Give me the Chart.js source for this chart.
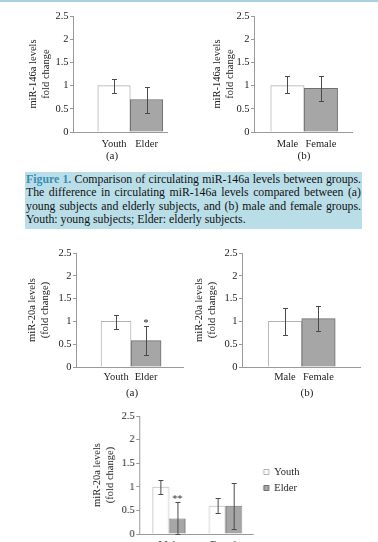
<!DOCTYPE html>
<html>
<head>
<meta charset="utf-8">
<script src="https://cdn.jsdelivr.net/npm/chart.js@4/dist/chart.umd.min.js"></script>
<style>
html,body{margin:0;padding:0;background:#fff;}
body{width:378px;height:542px;overflow:hidden;position:relative;font-family:'Liberation Serif','Times New Roman',serif;}
.topline{position:absolute;left:0;top:0;width:378px;height:2px;background:#a9d0dc;}
canvas{position:absolute;display:block;}
.sub{position:absolute;font-size:11px;color:#222;transform:translateX(-50%);white-space:nowrap;line-height:12px;}
.cap{position:absolute;left:25px;top:172px;width:335px;height:56px;background:#b9dee8;padding:1px 1px 0 1px;font-size:11.8px;line-height:13.3px;color:#111;}
.cap div{text-align:justify;text-align-last:justify;}
.cap div.last{text-align:left;text-align-last:left;}
.cap b{color:#3a8db4;}
</style>
</head>
<body>
<div class="topline"></div>
<canvas id="c1a" width="185" height="170" style="left:0;top:0"></canvas>
<canvas id="c1b" width="193" height="170" style="left:185px;top:0"></canvas>
<div class="sub" style="left:112px;top:149px">(a)</div>
<div class="sub" style="left:304px;top:149px">(b)</div>
<div class="cap">
<div><b>Figure 1.</b> Comparison of circulating miR-146a levels between groups.</div>
<div>The difference in circulating miR-146a levels compared between (a)</div>
<div>young subjects and elderly subjects, and (b) male and female groups.</div>
<div class="last">Youth: young subjects; Elder: elderly subjects.</div>
</div>
<canvas id="c2a" width="185" height="170" style="left:0;top:240px"></canvas>
<canvas id="c2b" width="193" height="170" style="left:185px;top:240px"></canvas>
<div class="sub" style="left:132px;top:386px">(a)</div>
<div class="sub" style="left:307px;top:386px">(b)</div>
<canvas id="c3" width="288" height="160" style="left:90px;top:400px"></canvas>
<script>
// ---------- data ----------
const ageGroups = ['Youth', 'Elder'];
const sexGroups = ['Male', 'Female'];
const yTickValues = [0, 0.5, 1, 1.5, 2, 2.5];
const yTickLabels = ['0', '0.5', '1', '1.5', '2', '2.5'];

// Figure 1 (a): miR-146a, youth vs elder
const mir146aByAge = [1.0, 0.70];
const mir146aByAgeLow = [0.84, 0.42];
const mir146aByAgeHigh = [1.15, 0.98];
// Figure 1 (b): miR-146a, male vs female
const mir146aBySex = [1.0, 0.94];
const mir146aBySexLow = [0.84, 0.67];
const mir146aBySexHigh = [1.20, 1.21];
// miR-20a (a): youth vs elder
const mir20aByAge = [1.0, 0.58];
const mir20aByAgeLow = [0.84, 0.27];
const mir20aByAgeHigh = [1.15, 0.89];
const mir20aByAgeSig = ['', '*'];
// miR-20a (b): male vs female
const mir20aBySex = [1.0, 1.06];
const mir20aBySexLow = [0.71, 0.80];
const mir20aBySexHigh = [1.29, 1.33];
// miR-20a grouped by sex, youth / elder series
const mir20aYouth = [1.0, 0.60];
const mir20aYouthLow = [0.84, 0.44];
const mir20aYouthHigh = [1.14, 0.77];
const mir20aElder = [0.33, 0.60];
const mir20aElderLow = [0.0, 0.10];
const mir20aElderHigh = [0.67, 1.09];
const mir20aElderSig = ['**', ''];

// ---------- styling ----------
const FONT = "'Liberation Serif', 'Times New Roman', serif";
Chart.defaults.font.family = FONT;
Chart.defaults.font.size = 10.5;
Chart.defaults.color = '#222';
Chart.defaults.animation = false;

const WHITE = '#ffffff', WHITE_BORDER = '#b4b4b4';
const GREY = '#a6a6a6', GREY_BORDER = '#6f6f6f';
const AXIS = '#9a9a9a';

const errorBarPlugin = {
  id: 'errorBars',
  afterDatasetsDraw(chart) {
    const ctx = chart.ctx, ys = chart.scales.y;
    chart.data.datasets.forEach((ds, di) => {
      if (!ds.errLow) return;
      const meta = chart.getDatasetMeta(di);
      meta.data.forEach((bar, i) => {
        const x = Math.round(bar.x) + 0.5;
        const yl = Math.round(ys.getPixelForValue(ds.errLow[i])) + 0.5;
        const yh = Math.round(ys.getPixelForValue(ds.errHigh[i])) + 0.5;
        ctx.save();
        ctx.strokeStyle = '#4a4a4a';
        ctx.lineWidth = 1;
        ctx.beginPath();
        ctx.moveTo(x, yl); ctx.lineTo(x, yh);
        ctx.moveTo(x - 2.5, yh); ctx.lineTo(x + 2.5, yh);
        ctx.moveTo(x - 2.5, yl); ctx.lineTo(x + 2.5, yl);
        ctx.stroke();
        if (ds.sig && ds.sig[i]) {
          ctx.fillStyle = '#222';
          ctx.font = '10px ' + FONT;
          ctx.textAlign = 'center';
          ctx.textBaseline = 'bottom';
          ctx.fillText(ds.sig[i], bar.x, yh + 1.5);
        }
        ctx.restore();
      });
    });
  }
};

function xy(values) { return values.map((v, i) => ({ x: i + 1, y: v })); }

function yScale(title, width, titlePad) {
  return {
    min: 0, max: 2.5,
    afterBuildTicks: s => { s.ticks = yTickValues.map(v => ({ value: v })); },
    ticks: { padding: 1.5, callback: (v, i) => yTickLabels[i] },
    grid: { display: true, drawOnChartArea: false, drawTicks: true, tickLength: 3, color: AXIS },
    border: { display: true, color: AXIS },
    title: { display: true, text: title, padding: { top: titlePad, bottom: 0 }, font: { size: 10.5, lineHeight: 1.2 }, color: '#222' },
    afterFit: s => { s.width = width; }
  };
}

function xScale(labels, min, max, pad, height) {
  return {
    type: 'linear', min: min, max: max, offset: false,
    afterBuildTicks: s => { s.ticks = labels.map((l, i) => ({ value: i + 1 })); },
    ticks: { padding: pad, maxRotation: 0, autoSkip: false, callback: v => labels[v - 1] },
    grid: { display: true, drawOnChartArea: false, drawTicks: false, offset: false },
    border: { display: true, color: AXIS },
    afterFit: s => { s.height = height; }
  };
}

function simpleChart(id, labels, values, low, high, sig, g) {
  return new Chart(document.getElementById(id), {
    type: 'bar',
    data: {
      datasets: [{
        data: xy(values),
        backgroundColor: [WHITE, GREY],
        borderColor: [WHITE_BORDER, GREY_BORDER],
        borderWidth: 1,
        barPercentage: 1, categoryPercentage: 1,
        errLow: low, errHigh: high, sig: sig
      }]
    },
    options: {
      responsive: false, maintainAspectRatio: false, devicePixelRatio: 1,
      layout: { padding: { left: 0, top: g.top, right: g.right, bottom: g.bottom } },
      plugins: { legend: { display: false }, tooltip: { enabled: false } },
      scales: {
        x: xScale(labels, g.xMin, g.xMax, g.tickPad, 30),
        y: yScale(g.title, g.axis, g.titlePad)
      }
    },
    plugins: [errorBarPlugin]
  });
}

const T146 = ['miR-146a levels', 'fold change'];
const T20 = ['miR-20a levels', '(fold change)'];

simpleChart('c1a', ageGroups, mir146aByAge, mir146aByAgeLow, mir146aByAgeHigh, null,
  { top: 16, right: 18, bottom: 8, axis: 73, xMin: -0.262, xMax: 2.63, tickPad: 5.7, title: T146, titlePad: 27.4 });
simpleChart('c1b', sexGroups, mir146aBySex, mir146aBySexLow, mir146aBySexHigh, null,
  { top: 16, right: 26, bottom: 8, axis: 69, xMin: 0, xMax: 2.93, tickPad: 5.7, title: T146, titlePad: 26.4 });
simpleChart('c2a', ageGroups, mir20aByAge, mir20aByAgeLow, mir20aByAgeHigh, mir20aByAgeSig,
  { top: 13, right: 2, bottom: 13, axis: 76, xMin: -0.333, xMax: 3.23, tickPad: 3.5, title: T20, titlePad: 26.4 });
simpleChart('c2b', sexGroups, mir20aBySex, mir20aBySexLow, mir20aBySexHigh, null,
  { top: 13, right: 18, bottom: 13, axis: 57, xMin: -0.284, xMax: 3.24, tickPad: 3.5, title: T20, titlePad: 8.4 });

// grouped chart with legend
const LEG_PAD = 5.5, LEG_ITEM = 10.5;
const legendPlacer = {
  id: 'legendPlacer',
  afterLayout(chart) {
    const lg = chart.legend;
    if (!lg) return;
    const n = chart.data.datasets.length;
    const colH = n * (LEG_ITEM + LEG_PAD);
    const firstCenter = (lg.top + LEG_PAD + lg.bottom - colH) / 2 + LEG_ITEM / 2;
    const dy = 72 - firstCenter;
    lg.top += dy; lg.bottom += dy;
    const dx = (173 - LEG_PAD) - lg.left;
    lg.left += dx; lg.right += dx;
  }
};

const c3 = new Chart(document.getElementById('c3'), {
  type: 'bar',
  data: {
    datasets: [
      { label: 'Youth', data: xy(mir20aYouth), backgroundColor: WHITE, borderColor: WHITE_BORDER, borderWidth: 1,
        barPercentage: 1, categoryPercentage: 0.586, errLow: mir20aYouthLow, errHigh: mir20aYouthHigh },
      { label: 'Elder', data: xy(mir20aElder), backgroundColor: GREY, borderColor: GREY_BORDER, borderWidth: 1,
        barPercentage: 1, categoryPercentage: 0.586, errLow: mir20aElderLow, errHigh: mir20aElderHigh, sig: mir20aElderSig }
    ]
  },
  options: {
    responsive: false, maintainAspectRatio: false, devicePixelRatio: 1,
    layout: { padding: { left: 0, top: 16, right: 0, bottom: 0 } },
    plugins: {
      tooltip: { enabled: false },
      legend: {
        position: 'right',
        labels: { boxWidth: 5, boxHeight: 5, padding: LEG_PAD, font: { size: 10.5 }, color: '#222' }
      }
    },
    scales: {
      x: xScale(sexGroups, 0.472, 2.5, 5.2, 26),
      y: yScale(T20, 49, 1.4)
    }
  },
  plugins: [errorBarPlugin, legendPlacer]
});
// make the plot area end where the reference axis ends
const c3w = 288 + (163 - c3.chartArea.right);
c3.resize(c3w, 160);
</script>
</body>
</html>
